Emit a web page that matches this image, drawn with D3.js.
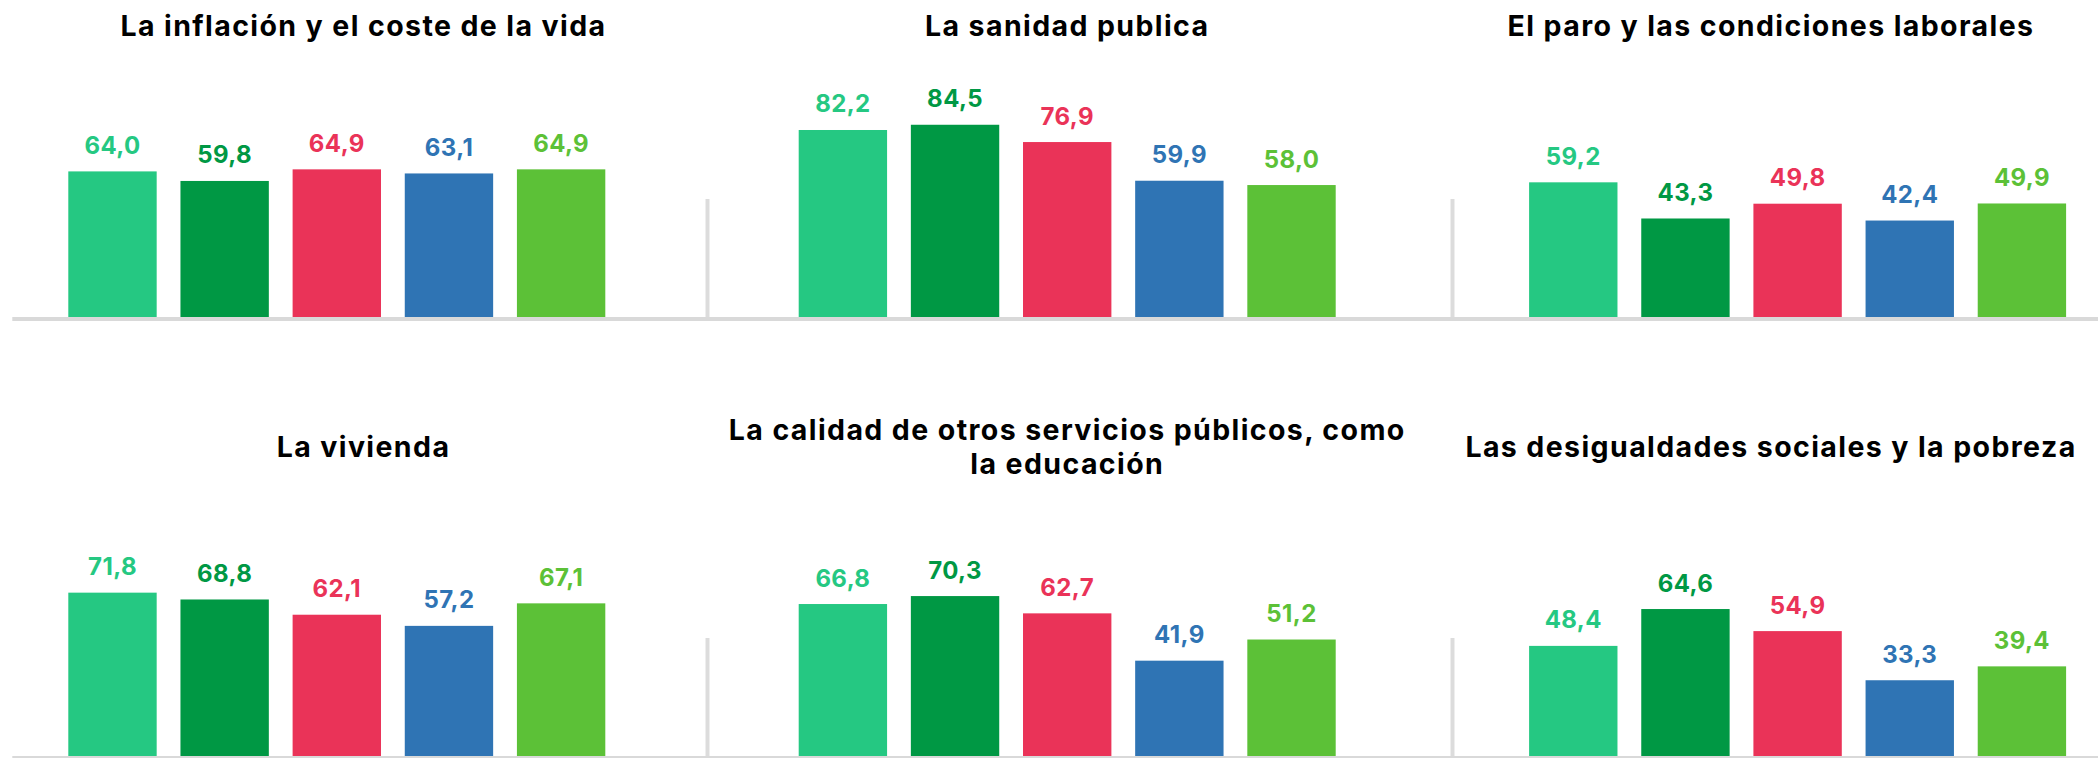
<!DOCTYPE html>
<html>
<head>
<meta charset="utf-8">
<script src="https://cdn.jsdelivr.net/npm/d3@7"></script>
<style>
  body { margin: 0; background: #fff; }
  svg text { font-family: Inter, "Noto Sans", sans-serif; font-weight: 700; }
</style>
</head>
<body>
<div id="chart"></div>
<script>
// temas (un panel por tema)
var temas = [
  'La inflación y el coste de la vida',
  'La sanidad publica',
  'El paro y las condiciones laborales',
  'La vivienda',
  'La calidad de otros servicios públicos, como\nla educación',
  'Las desigualdades sociales y la pobreza'
];

// cinco series, mismo orden que los temas
var serie1 = [64.0, 82.2, 59.2, 71.8, 66.8, 48.4];
var serie2 = [59.8, 84.5, 43.3, 68.8, 70.3, 64.6];
var serie3 = [64.9, 76.9, 49.8, 62.1, 62.7, 54.9];
var serie4 = [63.1, 59.9, 42.4, 57.2, 41.9, 33.3];
var serie5 = [64.9, 58.0, 49.9, 67.1, 51.2, 39.4];

var series = [serie1, serie2, serie3, serie4, serie5];
var colores = ['#25C882', '#009844', '#EA3358', '#2F74B4', '#5CC137'];

var width = 2098, height = 758;
var fmt = d3.formatLocale({decimal: ',', thousands: '.', grouping: [3], currency: ['', '€']}).format('.1f');

var svg = d3.select('#chart').append('svg')
  .attr('width', width)
  .attr('height', height);

var rowStep = 439;
var titleRowStep = 421;

temas.forEach(function(tema, i) {
  var col = i % 3, row = Math.floor(i / 3);
  var base = 317 + row * rowStep;
  var left = 68.3 + col * 730.4;

  var x = d3.scaleBand()
    .domain(d3.range(series.length))
    .range([left, left + 537])
    .paddingInner(0.212)
    .paddingOuter(0);

  var y = d3.scaleLinear()
    .domain([0, 100])
    .range([base, base - 227.5]);

  var g = svg.append('g');

  // linea base gris
  if (col == 0) {
    svg.append('line')
      .attr('x1', 12.3)
      .attr('x2', width)
      .attr('y1', base + 2)
      .attr('y2', base + 2)
      .attr('stroke', '#d9d9d9')
      .attr('stroke-width', 4);
  } else {
    var sx = 707.5 + (col - 1) * 745;
    g.append('line')
      .attr('x1', sx)
      .attr('x2', sx)
      .attr('y1', base - 118)
      .attr('y2', base)
      .attr('stroke', '#dcdcdc')
      .attr('stroke-width', 4);
  }

  var datos = series.map(function(s, k) { return {k: k, v: s[i]}; });

  g.selectAll('rect')
    .data(datos)
    .enter().append('rect')
    .attr('x', function(d) { return x(d.k); })
    .attr('width', x.bandwidth())
    .attr('y', function(d) { return y(d.v); })
    .attr('height', function(d) { return y(0) - y(d.v); })
    .attr('fill', function(d) { return colores[d.k]; });

  g.selectAll('text.valor')
    .data(datos)
    .enter().append('text')
    .attr('class', 'valor')
    .attr('x', function(d) { return x(d.k) + x.bandwidth() / 2; })
    .attr('y', function(d) { return y(d.v) - 17.5; })
    .attr('text-anchor', 'middle')
    .attr('font-size', 24)
    .attr('letter-spacing', 0.4)
    .attr('fill', function(d) { return colores[d.k]; })
    .text(function(d) { return fmt(d.v); });

  // titulo
  var lineas = tema.split('\n');
  var cx = 363.5 + col * 703.75;
  var cy = 35.7 + row * titleRowStep;
  var lh = 34.4;
  var t = g.append('text')
    .attr('text-anchor', 'middle')
    .attr('font-size', 28.5)
    .attr('letter-spacing', 1.4)
    .attr('fill', '#000');
  lineas.forEach(function(l, n) {
    t.append('tspan')
      .attr('x', cx)
      .attr('y', cy + (n - (lineas.length - 1) / 2) * lh)
      .text(l);
  });
});
</script>
</body>
</html>
